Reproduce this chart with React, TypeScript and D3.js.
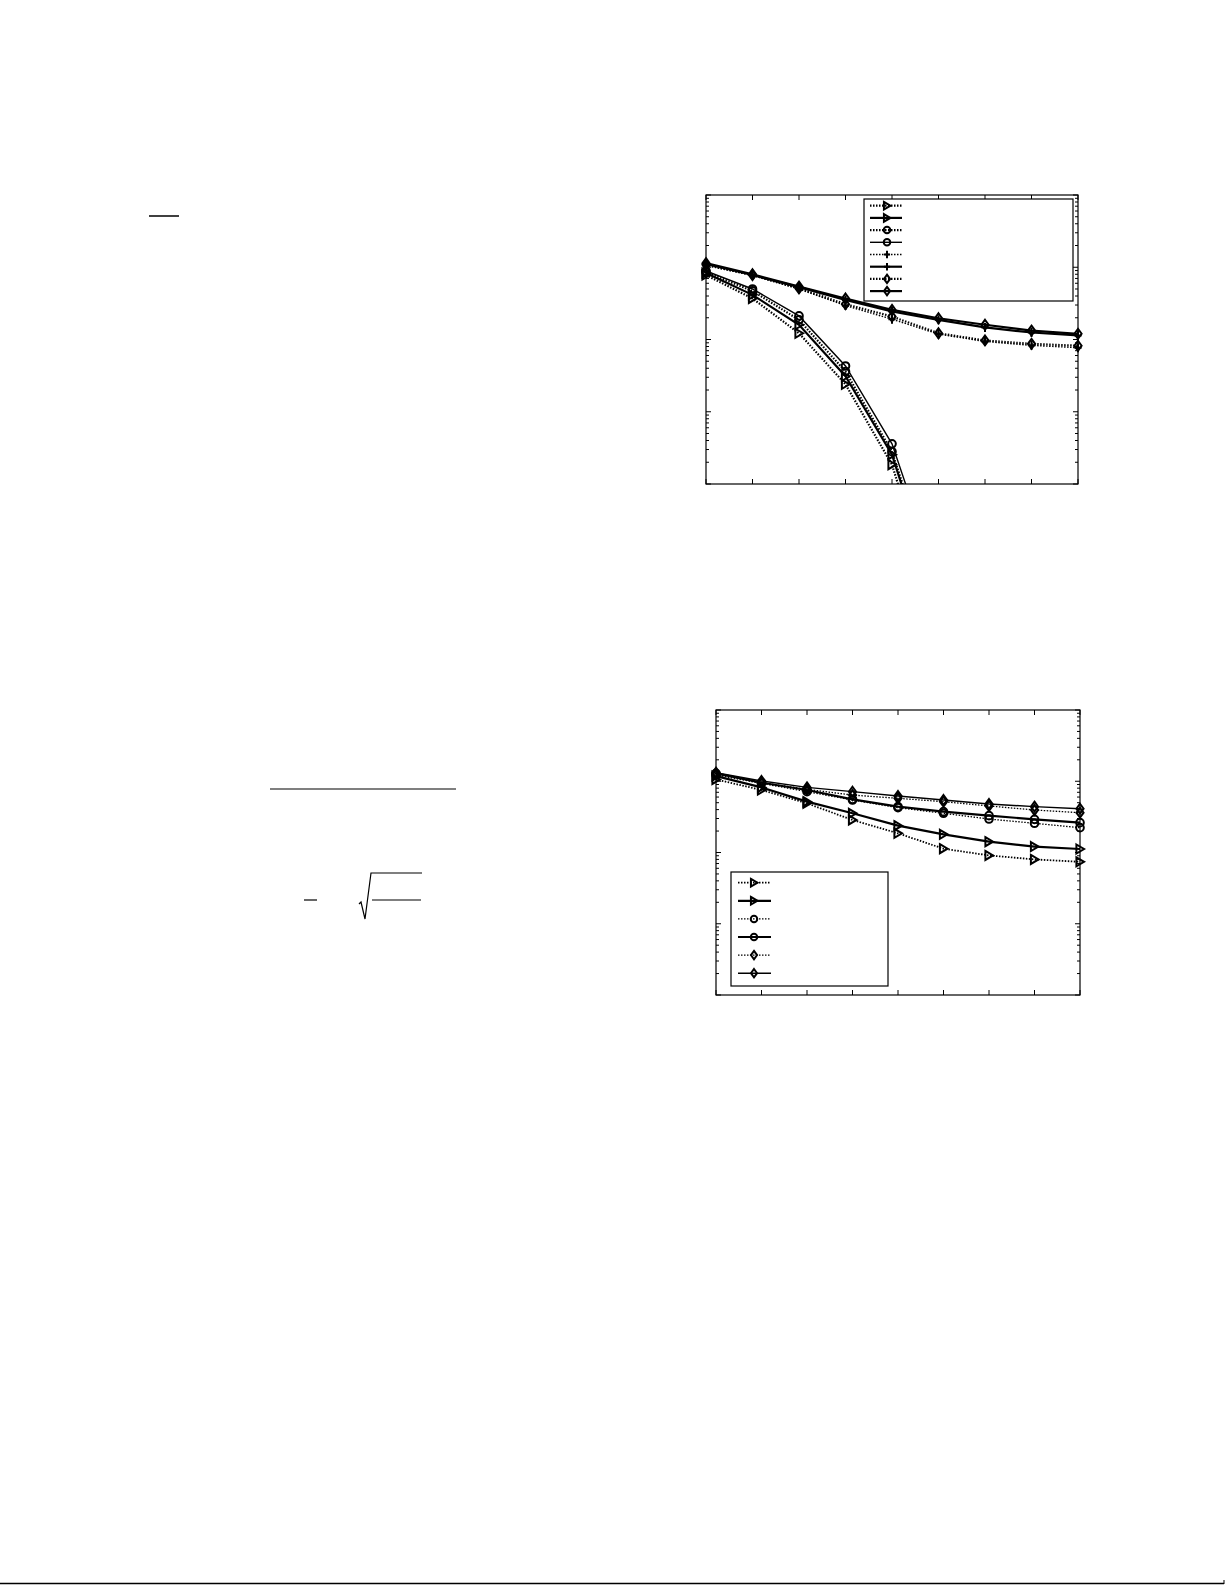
import React from "react";
import * as d3 from "d3";

// ---------- Data: top chart (x index 0..8) ----------
const xTop = [0, 1, 2, 3, 4, 5, 6, 7, 8];
const topTriDot = [0.078, 0.037, 0.0122, 0.0024, 0.000185, 0.0000015];
const topTriSol = [0.083, 0.0415, 0.016, 0.0031, 0.000255, 0.0000025];
const topCirDot = [0.085, 0.047, 0.0187, 0.0036, 0.00028, 0.000003];
const topCirSol = [0.089, 0.05, 0.0212, 0.0043, 0.00036, 0.0000045];
const topPlusDot = [0.106, 0.077, 0.05, 0.0295, 0.0191, 0.0119, 0.0094, 0.0083, 0.0077];
const topPlusSol = [0.111, 0.078, 0.053, 0.0353, 0.0244, 0.0187, 0.0147, 0.0125, 0.0114];
const topDiaDot = [0.108, 0.078, 0.051, 0.0308, 0.0208, 0.0122, 0.0097, 0.0087, 0.0082];
const topDiaSol = [0.114, 0.08, 0.054, 0.037, 0.0257, 0.0197, 0.016, 0.0133, 0.012];

// ---------- Data: bottom chart ----------
const xBot = [0, 1, 2, 3, 4, 5, 6, 7, 8];
const botTriDot = [0.106, 0.0754, 0.049, 0.0286, 0.0186, 0.0113, 0.0091, 0.008, 0.0074];
const botTriSol = [0.1185, 0.082, 0.0517, 0.0355, 0.0238, 0.018, 0.0142, 0.0121, 0.0112];
const botCirDot = [0.122, 0.0935, 0.0714, 0.0546, 0.0426, 0.0355, 0.0295, 0.0257, 0.0223];
const botCirSol = [0.129, 0.0955, 0.0754, 0.0557, 0.044, 0.0374, 0.0329, 0.0292, 0.0262];
const botDiaDot = [0.126, 0.0955, 0.077, 0.064, 0.0576, 0.0517, 0.045, 0.0395, 0.0362];
const botDiaSol = [0.132, 0.101, 0.082, 0.0714, 0.0621, 0.0546, 0.048, 0.044, 0.0412];

const yDomain: [number, number] = [1e-4, 1];

type Marker = "tri" | "cir" | "plus" | "dia";
interface Series {
  values: number[];
  marker: Marker;
  dotted: boolean;
  width: number;
}

const topSeries: Series[] = [
  { values: topTriDot, marker: "tri", dotted: true, width: 2.2 },
  { values: topTriSol, marker: "tri", dotted: false, width: 2.2 },
  { values: topCirDot, marker: "cir", dotted: true, width: 2.2 },
  { values: topCirSol, marker: "cir", dotted: false, width: 1.4 },
  { values: topPlusDot, marker: "plus", dotted: true, width: 1.4 },
  { values: topPlusSol, marker: "plus", dotted: false, width: 2.2 },
  { values: topDiaDot, marker: "dia", dotted: true, width: 2.2 },
  { values: topDiaSol, marker: "dia", dotted: false, width: 2.2 },
];

const botSeries: Series[] = [
  { values: botTriDot, marker: "tri", dotted: true, width: 1.8 },
  { values: botTriSol, marker: "tri", dotted: false, width: 2.2 },
  { values: botCirDot, marker: "cir", dotted: true, width: 1.3 },
  { values: botCirSol, marker: "cir", dotted: false, width: 2.2 },
  { values: botDiaDot, marker: "dia", dotted: true, width: 1.3 },
  { values: botDiaSol, marker: "dia", dotted: false, width: 1.4 },
];

function MarkerShape({ m, x, y, s, sw }: { m: Marker; x: number; y: number; s: number; sw: number }) {
  const common = { fill: "none", stroke: "#000", strokeWidth: sw };
  if (m === "tri") {
    return (
      <path
        d={`M${x - s * 0.8},${y - s} L${x + s * 0.9},${y} L${x - s * 0.8},${y + s} Z`}
        {...common}
      />
    );
  }
  if (m === "cir") return <circle cx={x} cy={y} r={s * 0.85} {...common} />;
  if (m === "plus")
    return (
      <path d={`M${x - s * 0.8},${y} H${x + s * 0.8} M${x},${y - s} V${y + s}`} {...common} />
    );
  return (
    <path
      d={`M${x},${y - s * 1.1} L${x + s * 0.8},${y} L${x},${y + s * 1.1} L${x - s * 0.8},${y} Z`}
      {...common}
    />
  );
}

interface ChartProps {
  id: string;
  x0: number;
  x1: number;
  y0: number;
  y1: number;
  xs: number[];
  series: Series[];
  legend: { x: number; y: number; w: number; h: number; rowY0: number; rowDy: number; lx0: number; lx1: number; mx: number };
  ms: number;
}

function Chart({ id, x0, x1, y0, y1, xs, series, legend, ms }: ChartProps) {
  const x = d3.scaleLinear().domain([xs[0], xs[xs.length - 1]]).range([x0, x1]);
  const y = d3.scaleLog().domain(yDomain).range([y1, y0]);
  const line = d3
    .line<number>()
    .x((_, i) => x(xs[i]))
    .y((v) => y(v));
  const majors = [1e-4, 1e-3, 1e-2, 1e-1, 1];
  const minors: number[] = [];
  for (let e = -4; e < 0; e++) for (let k = 2; k <= 9; k++) minors.push(k * Math.pow(10, e));
  return (
    <g>
      <defs>
        <clipPath id={id}>
          <rect x={x0} y={y0} width={x1 - x0} height={y1 - y0} />
        </clipPath>
        <clipPath id={id + "m"}>
          <rect x={x0 - 10} y={y0 - 10} width={x1 - x0 + 20} height={y1 - y0 + 10} />
        </clipPath>
      </defs>
      {xs.map((t) => (
        <g key={"xt" + t} stroke="#000" strokeWidth={1}>
          <line x1={x(t)} x2={x(t)} y1={y1} y2={y1 - 5} />
          <line x1={x(t)} x2={x(t)} y1={y0} y2={y0 + 5} />
        </g>
      ))}
      {majors.map((v) => (
        <g key={"ym" + v} stroke="#000" strokeWidth={1}>
          <line x1={x0} x2={x0 + 5} y1={y(v)} y2={y(v)} />
          <line x1={x1} x2={x1 - 5} y1={y(v)} y2={y(v)} />
        </g>
      ))}
      {minors.map((v) => (
        <g key={"yn" + v} stroke="#000" strokeWidth={1}>
          <line x1={x0} x2={x0 + 3} y1={y(v)} y2={y(v)} />
          <line x1={x1} x2={x1 - 3} y1={y(v)} y2={y(v)} />
        </g>
      ))}
      <g clipPath={`url(#${id})`}>
        {series.map((s, i) => (
          <path
            key={"l" + i}
            d={line(s.values) || ""}
            fill="none"
            stroke="#000"
            strokeWidth={s.width}
            strokeDasharray={s.dotted ? "1.5,1.5" : undefined}
          />
        ))}
      </g>
      <g clipPath={`url(#${id}m)`}>
        {series.map((s, i) =>
          s.values.map((v, j) =>
            y(v) <= y1 + 2 ? (
              <MarkerShape key={`m${i}-${j}`} m={s.marker} x={x(xs[j])} y={y(v)} s={ms} sw={2} />
            ) : null
          )
        )}
      </g>
      <rect x={x0} y={y0} width={x1 - x0} height={y1 - y0} fill="none" stroke="#000" strokeWidth={1.2} />
      <rect x={legend.x} y={legend.y} width={legend.w} height={legend.h} fill="#fff" stroke="#000" strokeWidth={1.2} />
      {series.map((s, i) => {
        const ly = legend.rowY0 + i * legend.rowDy;
        return (
          <g key={"lg" + i}>
            <line
              x1={legend.lx0}
              x2={legend.lx1}
              y1={ly}
              y2={ly}
              stroke="#000"
              strokeWidth={s.width}
              strokeDasharray={s.dotted ? "1.5,1.5" : undefined}
            />
            <MarkerShape m={s.marker} x={legend.mx} y={ly} s={ms * 0.85} sw={2} />
          </g>
        );
      })}
    </g>
  );
}

export default function App() {
  return (
    <svg
      width={1225}
      height={1585}
      style={{ position: "absolute", left: 0, top: 0, background: "#fff" }}
    >
      <rect x={0} y={0} width={1225} height={1585} fill="#fff" />
      <line x1={149} x2={179} y1={216} y2={216} stroke="#000" strokeWidth={1.5} />
      <line x1={270} x2={456} y1={789} y2={789} stroke="#000" strokeWidth={1.2} />
      <line x1={304} x2={317} y1={900} y2={900} stroke="#000" strokeWidth={1.2} />
      <path d="M359,904 L361,902 L365,919 L371,873 L422,873" fill="none" stroke="#000" strokeWidth={1.2} />
      <line x1={372} x2={421} y1={900} y2={900} stroke="#000" strokeWidth={1.2} />
      <Chart
        id="cTop"
        x0={706}
        x1={1078}
        y0={195}
        y1={484}
        xs={xTop}
        series={topSeries}
        ms={4.5}
        legend={{ x: 864, y: 199, w: 209, h: 102, rowY0: 205.7, rowDy: 12.2, lx0: 870, lx1: 902, mx: 887 }}
      />
      <Chart
        id="cBot"
        x0={716}
        x1={1080}
        y0={710}
        y1={995}
        xs={xBot}
        series={botSeries}
        ms={4.5}
        legend={{ x: 731, y: 872, w: 157, h: 114, rowY0: 882.7, rowDy: 18.1, lx0: 738, lx1: 771, mx: 754 }}
      />
      <line x1={0} x2={1224} y1={1583.5} y2={1583.5} stroke="#000" strokeWidth={1.5} />
      <line x1={1224} x2={1224} y1={1580} y2={1584} stroke="#000" strokeWidth={1} />
    </svg>
  );
}
